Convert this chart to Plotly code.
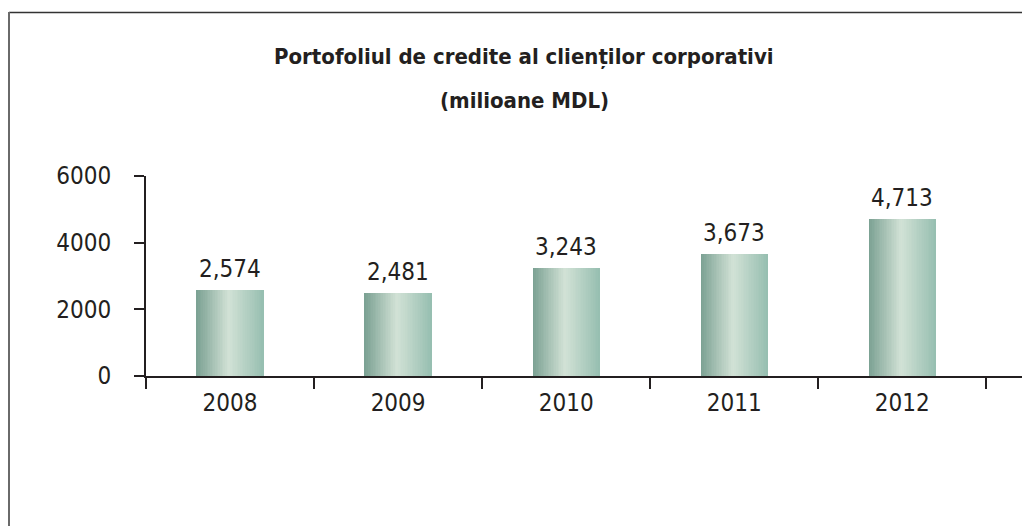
import plotly.graph_objects as go

years = ["2008", "2009", "2010", "2011", "2012"]
credits = [2574, 2481, 3243, 3673, 4713]
y_ticks = [0, 2000, 4000, 6000]
title_line1 = "Portofoliul de credite al clienților corporativi"
title_line2 = "(milioane MDL)"

FONT = "DejaVu Sans Condensed, Liberation Sans Narrow, Arial Narrow, sans-serif"
INK = "#231f20"

# horizontal gradient stops for the bars (position, rgb)
stops = [(0.0, (122, 160, 146)), (0.48, (210, 226, 214)), (1.0, (150, 190, 176))]


def grad(t):
    for (p0, c0), (p1, c1) in zip(stops[:-1], stops[1:]):
        if p0 <= t <= p1:
            f = (t - p0) / (p1 - p0)
            return "rgb(%d,%d,%d)" % tuple(round(a + (b - a) * f) for a, b in zip(c0, c1))
    return "rgb(%d,%d,%d)" % stops[-1][1]


# page shows the figure offset by the body margin (8px); screen px -> paper coords
PW, PH = 879, 200


def px_x(p):
    return (p - 146) / PW


def px_y(p):
    return (376 - p) / PH


fig = go.Figure()
BAR_W = 0.4
N = 40
sw = BAR_W / N
for i in range(N):
    w = sw * 1.6 if i < N - 1 else sw
    fig.add_trace(go.Bar(
        x=years, y=credits, width=w, offset=-BAR_W / 2 + i * sw,
        marker=dict(color=grad((i + 0.5) / N), line=dict(width=0)),
        showlegend=False, hoverinfo="skip",
    ))

annotations = [
    dict(x=i, y=v, xref="x", yref="y", text=f"{v:,}", showarrow=False,
         xanchor="center", yanchor="bottom", yshift=5,
         font=dict(family=FONT, size=24, color=INK))
    for i, v in enumerate(credits)
]
annotations += [
    dict(text="<b>" + title_line1 + "</b>", xref="paper", yref="paper",
         x=px_x(524), y=px_y(57), showarrow=False,
         font=dict(family=FONT, size=22, color=INK), xanchor="center", yanchor="middle"),
    dict(text="<b>" + title_line2 + "</b>", xref="paper", yref="paper",
         x=px_x(524), y=px_y(100), showarrow=False,
         font=dict(family=FONT, size=22, color=INK), xanchor="center", yanchor="middle"),
]

fig.update_layout(
    width=1030, height=526,
    margin=dict(l=138, r=13, t=168, b=158),
    paper_bgcolor="white", plot_bgcolor="white",
    barmode="overlay", bargap=0,
    font=dict(family=FONT, color=INK),
    xaxis=dict(
        type="category", range=[-0.5, 4.73],
        tickson="boundaries", ticks="outside", ticklen=11, tickwidth=2, tickcolor=INK,
        showline=True, linewidth=2, linecolor=INK, showgrid=False, zeroline=False,
        tickfont=dict(family=FONT, size=24, color=INK), ticklabelstandoff=4,
    ),
    yaxis=dict(
        range=[0, 6000], tickvals=y_ticks, ticktext=[str(v) for v in y_ticks],
        ticks="outside", ticklen=10, tickwidth=2, tickcolor=INK,
        showline=True, linewidth=2, linecolor=INK, showgrid=False, zeroline=False,
        tickfont=dict(family=FONT, size=24, color=INK), ticklabelstandoff=18,
    ),
    annotations=annotations,
    shapes=[
        # end tick of the x axis
        dict(type="line", xref="paper", x0=1, x1=1, yref="y", ysizemode="pixel",
             yanchor=0, y0=0, y1=-11, line=dict(color=INK, width=2)),
        # outer frame (top and left visible)
        dict(type="line", xref="paper", yref="paper",
             x0=px_x(9), x1=px_x(1045), y0=px_y(12.5), y1=px_y(12.5),
             line=dict(color="#333333", width=1.5)),
        dict(type="line", xref="paper", yref="paper",
             x0=px_x(9), x1=px_x(9), y0=px_y(12), y1=px_y(545),
             line=dict(color="#6a6a6a", width=2)),
    ],
)

fig.write_html("out.html")
